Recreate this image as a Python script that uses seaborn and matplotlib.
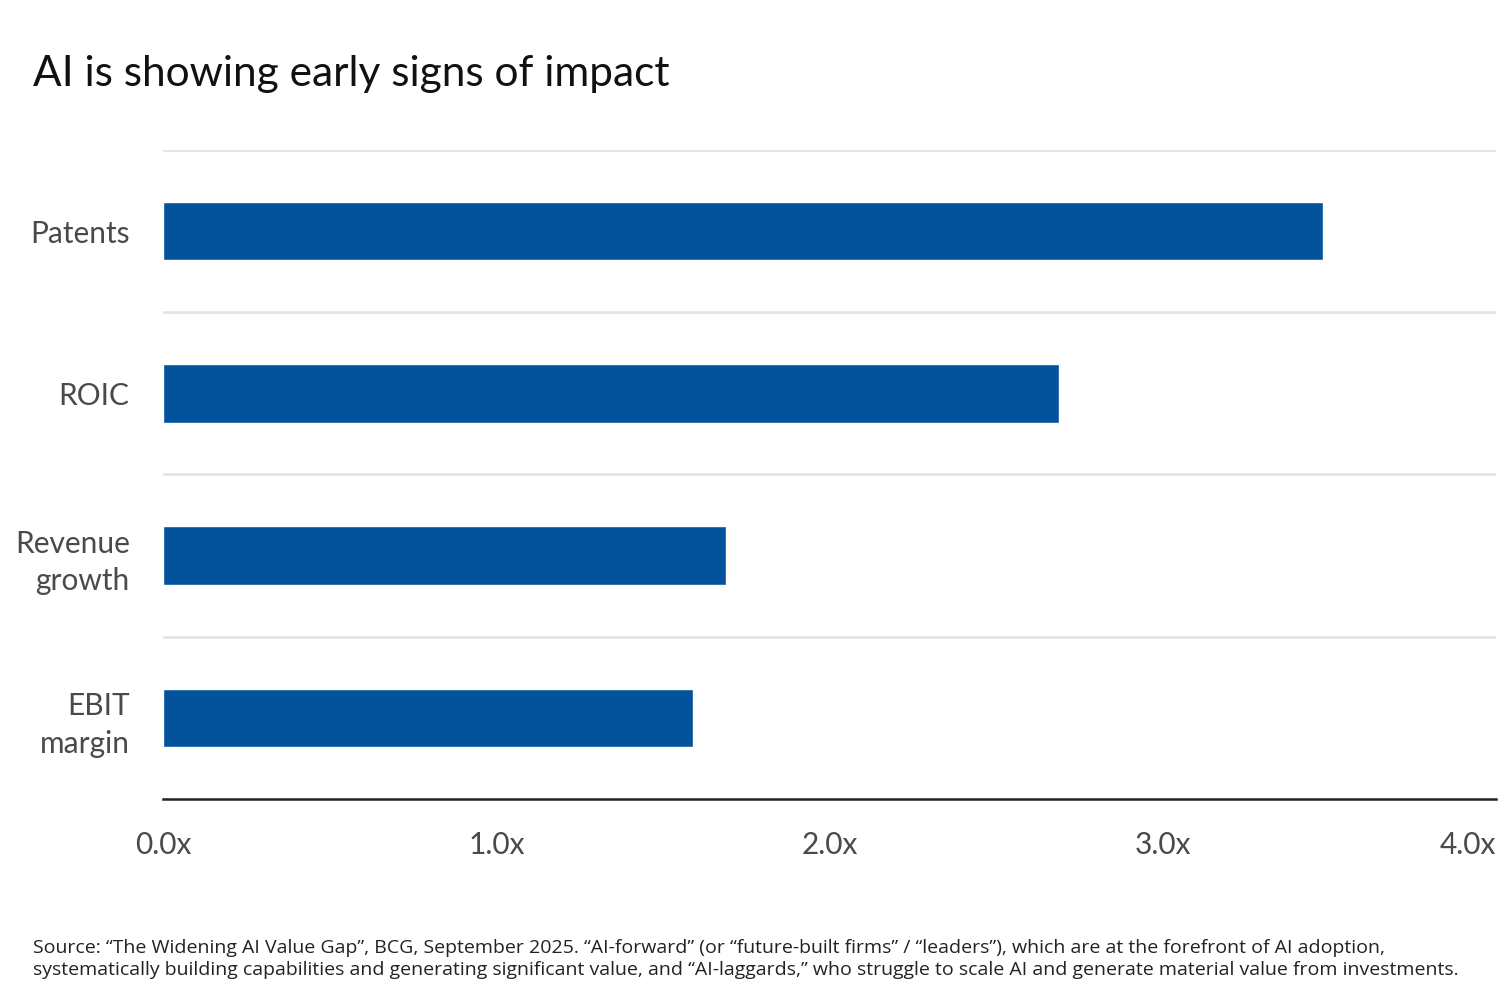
import pandas as pd
import matplotlib.pyplot as plt
import seaborn as sns

# Values (multiple, AI-forward vs AI-laggards)
metrics = ["Patents", "ROIC", "Revenue\ngrowth", "EBIT\nmargin"]
multiples = [3.48, 2.69, 1.69, 1.59]
x_ticks = [0, 1, 2, 3, 4]
x_tick_labels = ["0.0x", "1.0x", "2.0x", "3.0x", "4.0x"]

df = pd.DataFrame({"metric": metrics, "multiple": multiples})

sns.set_style("white")
plt.rcParams["font.family"] = ["Lato", "DejaVu Sans"]

fig = plt.figure(figsize=(15.04, 10), dpi=100)
ax = fig.add_axes([0.1084, 0.201, 0.8863, 0.649])

sns.barplot(data=df, x="multiple", y="metric", orient="h", color="#02529c",
            saturation=1, width=0.36, ax=ax)

# light separators between categories
for y in [-0.5, 0.5, 1.5, 2.5]:
    ax.axhline(y, color="#e6e4e3", lw=2, zorder=0)

ax.set_xlim(0, 4)
ax.set_ylim(3.5, -0.5)
ax.set_xticks(x_ticks)
ax.set_xticklabels(x_tick_labels)
ax.set_xlabel("")
ax.set_ylabel("")
ax.tick_params(axis="both", length=0, labelsize=21.5, labelcolor="#4a4a48")
ax.tick_params(axis="x", pad=23)
ax.tick_params(axis="y", pad=24)
ax.get_xticklabels()[-1].set_horizontalalignment("right")
for lab in ax.get_yticklabels():
    lab.set_horizontalalignment("right")
    lab.set_linespacing(1.4)

sns.despine(ax=ax, left=True, top=True, right=True)
ax.spines["bottom"].set_color("#222222")
ax.spines["bottom"].set_linewidth(1.8)

fig.text(0.022, 0.914, "AI is showing early signs of impact", fontsize=30.5, color="#111111")
fig.text(0.022, 0.025,
         "Source: \u201cThe Widening AI Value Gap\u201d, BCG, September 2025. \u201cAI-forward\u201d (or \u201cfuture-built firms\u201d / \u201cleaders\u201d), which are at the forefront of AI adoption,\n"
         "systematically building capabilities and generating significant value, and \u201cAI-laggards,\u201d who struggle to scale AI and generate material value from investments.",
         fontsize=14, color="#222222", linespacing=1.3, family=["Open Sans", "DejaVu Sans"])

fig.savefig("out.png", dpi=100, facecolor="white")
